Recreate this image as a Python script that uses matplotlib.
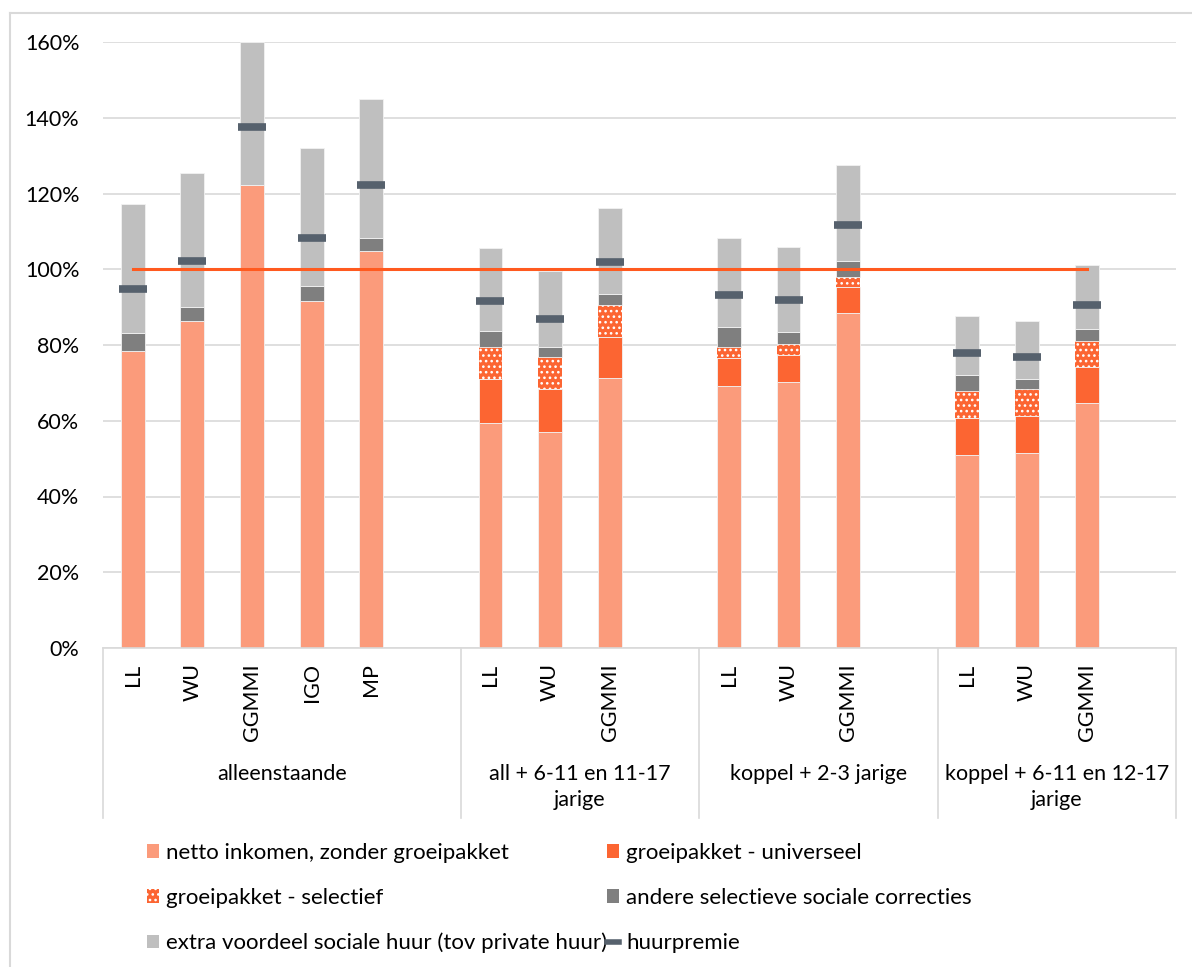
import matplotlib.pyplot as plt
import matplotlib.transforms as mtransforms
from matplotlib.lines import Line2D
from matplotlib.patches import Patch
import numpy as np

plt.rcParams['font.family'] = ['Lato', 'DejaVu Sans']
plt.rcParams['hatch.linewidth'] = 1.1

# gezinstypes en scenario's
groepen = ['alleenstaande', 'all + 6-11 en 11-17\njarige',
           'koppel + 2-3 jarige', 'koppel + 6-11 en 12-17\njarige']
scenarios = [['LL', 'WU', 'GGMMI', 'IGO', 'MP'],
             ['LL', 'WU', 'GGMMI'],
             ['LL', 'WU', 'GGMMI'],
             ['LL', 'WU', 'GGMMI']]

# componenten in % van de referentie (gestapeld)
netto = [78.4, 86.3, 122.2, 91.5, 104.9,
         59.5, 57.0, 71.4,
         69.2, 70.2, 88.4,
         51.0, 51.4, 64.8]
universeel = [0, 0, 0, 0, 0,
              11.4, 11.3, 10.8,
              7.3, 7.1, 6.8,
              9.6, 9.9, 9.3]
selectief = [0, 0, 0, 0, 0,
             8.7, 8.6, 8.3,
             2.9, 2.9, 2.8,
             7.3, 7.2, 7.0]
andere = [4.8, 3.8, 0, 4.2, 3.4,
          4.2, 2.7, 3.0,
          5.3, 3.3, 4.2,
          4.1, 2.5, 3.1]
extra_huur = [33.9, 35.4, 37.8, 36.4, 36.7,
              21.7, 20.0, 22.7,
              23.6, 22.3, 25.3,
              15.7, 15.3, 16.9]
huurpremie = [94.9, 102.2, 137.5, 108.3, 122.2,
              91.6, 86.8, 101.8,
              93.2, 91.8, 111.7,
              77.8, 76.7, 90.5]
drempel = 100

c_netto = '#FB9B7B'
c_univ = '#FC6532'
c_andere = '#7F7F7F'
c_extra = '#BFBFBF'
c_huur = '#56616D'
c_lijn = '#FF5A1F'
c_grid = '#D9D9D9'

# x-posities: één lege plaats na elke groep
pos, labels, grens, midden = [], [], [-0.5], []
x = 0
for sc in scenarios:
    start = x
    for s in sc:
        pos.append(x)
        labels.append(s)
        x += 1
    x += 1
    grens.append(x - 0.5)
    midden.append((start - 0.5 + x - 0.5) / 2)
pos = np.array(pos)

fig = plt.figure(figsize=(11.92, 9.67), dpi=100)
ax = fig.add_axes([103 / 1192, 1 - 648 / 967, 1073 / 1192, 606 / 967])

w = 0.4
bodem = np.zeros(len(pos))
reeksen = [(netto, c_netto, None), (universeel, c_univ, None),
           (selectief, c_univ, '...'), (andere, c_andere, None),
           (extra_huur, c_extra, None)]
for waarden, kleur, hatch in reeksen:
    waarden = np.array(waarden, dtype=float)
    if hatch:
        ax.bar(pos, waarden, w, bottom=bodem, color=kleur, hatch=hatch,
               edgecolor='white', linewidth=0, zorder=2)
    else:
        ax.bar(pos, waarden, w, bottom=bodem, color=kleur,
               edgecolor='#F2F2F2', linewidth=0.6, zorder=2)
    bodem += waarden

ax.plot(pos, [drempel] * len(pos), color=c_lijn, lw=2.2, zorder=3)
ax.plot(pos, huurpremie, linestyle='none', marker='_', markersize=20,
        mew=5.5, color=c_huur, zorder=4)

ax.set_xlim(-0.5, 17.5)
ax.set_ylim(0, 160)
ax.set_yticks(range(0, 161, 20))
ax.set_yticklabels([f'{v}%' for v in range(0, 161, 20)], fontsize=15.5)
ax.yaxis.grid(True, color=c_grid, lw=1.2)
ax.set_axisbelow(True)
for s in ['top', 'right', 'left']:
    ax.spines[s].set_visible(False)
ax.spines['bottom'].set_color(c_grid)
ax.spines['bottom'].set_linewidth(1.2)
ax.tick_params(axis='y', length=0, pad=17)
ax.set_xticks(pos)
ax.set_xticklabels(labels, rotation=90, fontsize=15.5, va='top')
ax.tick_params(axis='x', length=0, pad=11)

trans = mtransforms.blended_transform_factory(ax.transData, ax.transAxes)
for g in grens:
    ax.plot([g, g], [0, -0.2805], transform=trans, color=c_grid, lw=1.2,
            clip_on=False)
for m, g in zip(midden, groepen):
    ax.text(m, -0.192, g, transform=trans, ha='center', va='top',
            fontsize=15.5, linespacing=1.35)

# legenda in twee kolommen
h_netto = Patch(facecolor=c_netto)
h_univ = Patch(facecolor=c_univ)
h_sel = Patch(facecolor=c_univ, hatch='...', edgecolor='white', linewidth=0)
h_andere = Patch(facecolor=c_andere)
h_extra = Patch(facecolor=c_extra)
h_huur = Line2D([], [], color=c_huur, lw=4)
opts = dict(loc='upper left', frameon=False, fontsize=16, handlelength=0.55,
            handleheight=0.55, handletextpad=0.3, labelspacing=1.12,
            borderpad=0, borderaxespad=0)
leg1 = fig.legend([h_netto, h_sel, h_extra],
                  ['netto inkomen, zonder groeipakket', 'groeipakket - selectief',
                   'extra voordeel sociale huur (tov private huur)'],
                  bbox_to_anchor=(147 / 1192, 1 - 843 / 967), **opts)
leg2 = fig.legend([h_univ, h_andere, h_huur],
                  ['groeipakket - universeel', 'andere selectieve sociale correcties',
                   'huurpremie'],
                  bbox_to_anchor=(607 / 1192, 1 - 843 / 967), **opts)

# kader rond de grafiek
fig.add_artist(Line2D([10 / 1192, 10 / 1192], [0, 1 - 13 / 967], color=c_grid, lw=1.5))
fig.add_artist(Line2D([10 / 1192, 1], [1 - 13 / 967, 1 - 13 / 967], color=c_grid, lw=1.5))

fig.savefig('out.png', dpi=100)
